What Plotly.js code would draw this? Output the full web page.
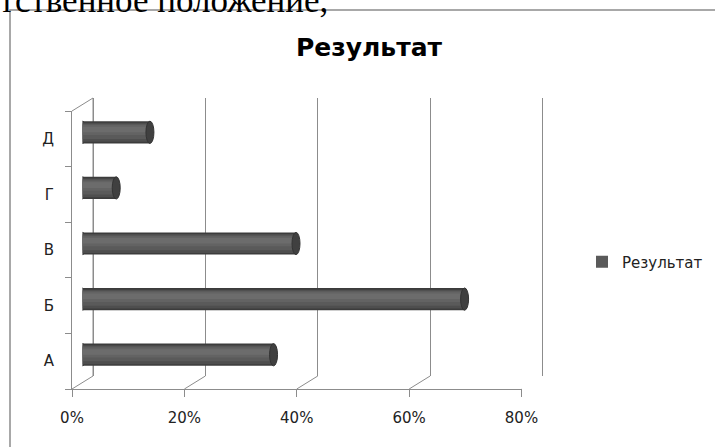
<!DOCTYPE html>
<html><head><meta charset="utf-8">
<script src="https://cdn.plot.ly/plotly-3.0.1.min.js"></script>
<style>html,body{margin:0;padding:0;background:#fff;}#chart{width:715px;height:447px;}</style>
</head><body><div id="chart"></div>
<script>
const categories = ['А','Б','В','Г','Д'];
const values = [34, 68, 38, 6, 12];
const xTicks = [0, 20, 40, 60, 80];
const xTickText = ['0%','20%','40%','60%','80%'];
const seriesName = 'Результат';
const chartTitle = 'Результат';
const headerText = 'соответственное положение,';

const W = 715, H = 447;
const px = x => x / W, py = y => 1 - y / H;
const xFront = [72, 521.5], yFront = [111, 389];
const depth = [21, -13];
const xRange = [0, 80];
const pxPerUnit = (xFront[1]-xFront[0]) / (xRange[1]-xRange[0]);
const unitsPerPx = 1 / pxPerUnit;
const font = '"DejaVu Sans", "Noto Sans", sans-serif';

// cylinder layers (offset, width, colour)
const layers = [
  [-0.2, 0.40, '#3c3c3c'],
  [-0.17, 0.34, '#4e4e4e'],
  [-0.12, 0.27, '#5a5a5a'],
  [-0.05, 0.18, '#636363'],
  [0.0, 0.10, '#6c6c6c']
];
const traces = [{type:'scatter', mode:'markers', x:[null], y:[null], xaxis:'x2', yaxis:'y2',
  showlegend:false, hoverinfo:'skip'}];
layers.forEach((l, i) => traces.push({
  type: 'bar', orientation: 'h', x: values, y: categories,
  xaxis: 'x3', yaxis: 'y3', offset: l[0], width: l[1],
  marker: {color: l[2], line: {width: 0}},
  name: seriesName, showlegend: i === 2, hoverinfo: 'skip'
}));

const shapes = [];
shapes.push({type:'rect', xref:'paper', yref:'paper', x0:px(10), x1:px(730), y0:py(10), y1:py(460),
  line:{color:'#8c8c8c', width:1.5}, fillcolor:'rgba(0,0,0,0)', layer:'below'});
xTicks.forEach(v => {
  shapes.push({type:'line', xref:'x', yref:'paper', x0:v, x1:v + depth[0]*unitsPerPx,
    y0:py(yFront[1]), y1:py(yFront[1]+depth[1]), line:{color:'#8c8c8c', width:1}});
});
// back wall left edge (0 gridline)
shapes.push({type:'line', xref:'x2', yref:'paper', x0:xTicks[0], x1:xTicks[0],
  y0:py(yFront[1]+depth[1]), y1:py(yFront[0]+depth[1]), line:{color:'#8c8c8c', width:1}, layer:'below'});
shapes.push({type:'line', xref:'paper', yref:'paper', x0:px(xFront[0]), x1:px(xFront[0]+depth[0]),
  y0:py(yFront[0]), y1:py(yFront[0]+depth[1]), line:{color:'#8c8c8c', width:1}});
const capHalf = 4 * unitsPerPx;
values.forEach((v, i) => {
  shapes.push({type:'circle', xref:'x3', yref:'y3', x0:-capHalf, x1:capHalf, y0:i-0.2, y1:i+0.2,
    fillcolor:'#505050', line:{color:'#3c3c3c', width:1}, layer:'between'});
  shapes.push({type:'circle', xref:'x3', yref:'y3', x0:v-capHalf, x1:v+capHalf, y0:i-0.2, y1:i+0.2,
    fillcolor:'#404040', line:{color:'#333333', width:1}, layer:'above'});
});

const pad = 2; // extra units so edge gridlines are drawn
const layout = {
  width: W, height: H, margin:{l:0,r:0,t:0,b:0},
  paper_bgcolor:'#ffffff', plot_bgcolor:'rgba(0,0,0,0)',
  barmode:'overlay', showlegend:true,
  title:{text:'<b>'+chartTitle+'</b>', x:px(369), xanchor:'center', y:py(47), yanchor:'middle',
    font:{family:font, size:25, color:'#000'}},
  xaxis:{domain:[px(xFront[0]), px(xFront[1])], anchor:'y', range:xRange, tickvals:xTicks, ticktext:xTickText,
    showgrid:false, zeroline:false, showline:true, linecolor:'#8c8c8c', linewidth:1,
    ticks:'outside', ticklen:7, tickcolor:'#8c8c8c', ticklabelstandoff:8,
    tickfont:{family:font, size:15, color:'#222'}, fixedrange:true},
  yaxis:{domain:[py(yFront[1]), py(yFront[0])], anchor:'x', type:'category', range:[-0.5,4.5],
    categoryorder:'array', categoryarray:categories,
    showgrid:false, zeroline:false, showline:true, linecolor:'#8c8c8c', linewidth:1,
    ticks:'outside', ticklen:6, tickcolor:'#8c8c8c', tickson:'boundaries', ticklabelstandoff:14,
    tickfont:{family:font, size:15, color:'#222'}, fixedrange:true},
  xaxis2:{domain:[px(xFront[0]+depth[0]-pad*pxPerUnit), px(xFront[1]+depth[0]+pad*pxPerUnit)], anchor:'y2',
    range:[xRange[0]-pad, xRange[1]+pad], tickvals:xTicks,
    showgrid:true, gridcolor:'#8c8c8c', gridwidth:1, zeroline:false,
    showline:false, showticklabels:false, ticks:''},
  yaxis2:{domain:[py(yFront[1]+depth[1]), py(yFront[0]+depth[1])], anchor:'x2', range:[0,1],
    showgrid:false, zeroline:false, showline:false, showticklabels:false, ticks:''},
  xaxis3:{domain:[px(xFront[0]+depth[0]/2), px(xFront[1]+depth[0]/2)], anchor:'y3', range:xRange,
    showgrid:false, zeroline:false, showline:false, showticklabels:false, ticks:''},
  yaxis3:{domain:[py(yFront[1]+depth[1]/2), py(yFront[0]+depth[1]/2)], anchor:'x3', type:'category', range:[-0.5,4.5],
    categoryorder:'array', categoryarray:categories,
    showgrid:false, zeroline:false, showline:false, showticklabels:false, ticks:''},
  legend:{x:px(582), xanchor:'left', y:py(262), yanchor:'middle', bgcolor:'rgba(0,0,0,0)',
    font:{family:font, size:15, color:'#222'}},
  shapes: shapes,
  annotations:[{text:headerText, xref:'paper', yref:'paper', x:px(330), xanchor:'right', y:py(22), yanchor:'bottom',
    showarrow:false, font:{family:'"Liberation Serif", "Times New Roman", serif', size:35, color:'#000'}}]
};
Plotly.newPlot('chart', traces, layout, {displayModeBar:false, staticPlot:true});
</script></body></html>
